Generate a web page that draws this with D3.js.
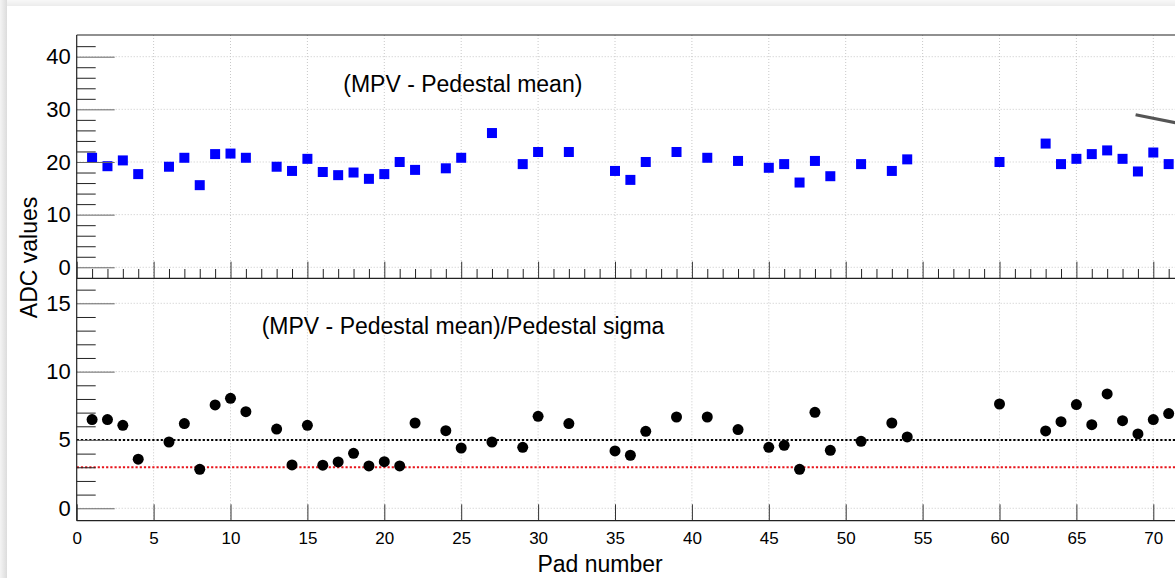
<!DOCTYPE html>
<html>
<head>
<meta charset="utf-8">
<script src="https://cdnjs.cloudflare.com/ajax/libs/d3/7.8.5/d3.min.js"></script>
<style>
  html, body { margin: 0; padding: 0; background: #ffffff; }
  svg { display: block; font-family: "Liberation Sans", Arial, Helvetica, sans-serif; }
</style>
</head>
<body>
<svg id="chart" width="1175" height="578"></svg>
<script>
// ---------------- data ----------------
const pads = [1,2,3,4,6,7,8,9,10,11,13,14,15,16,17,18,19,20,21,22,24,25,27,29,30,32,35,36,37,39,41,43,45,46,47,48,49,51,53,54,60,63,64,65,66,67,68,69,70,71];
const mpvMinusPed = [20.8,19.2,20.3,17.7,19.1,20.8,15.6,21.5,21.6,20.8,19.1,18.3,20.6,18.1,17.5,18.0,16.8,17.7,20.0,18.5,18.8,20.8,25.5,19.6,21.9,21.9,18.3,16.6,20.0,21.9,20.8,20.2,18.9,19.6,16.1,20.2,17.3,19.6,18.3,20.5,20.0,23.5,19.6,20.6,21.5,22.2,20.6,18.2,21.8,19.6];
const mpvOverSigma = [6.49,6.49,6.07,3.59,4.85,6.20,2.85,7.56,8.05,7.07,5.80,3.17,6.07,3.15,3.39,4.02,3.10,3.41,3.10,6.24,5.68,4.41,4.85,4.46,6.73,6.20,4.20,3.88,5.63,6.68,6.68,5.76,4.46,4.61,2.85,7.02,4.24,4.90,6.24,5.22,7.63,5.66,6.34,7.59,6.12,8.37,6.41,5.44,6.49,6.93];
const thresholdLines = [5, 3];                 // bottom panel reference lines
const thresholdColors = ["#000000", "#e8141b"];
const topMajorTicks = [0,10,20,30,40];
const topMinorTicks = [2,4,6,8,12,14,16,18,22,24,26,28,32,34,36,38,42];
const botMajorTicks = [0,5,10,15];
const botMinorTicks = [1,2,3,4,6,7,8,9,11,12,13,14,16];
const xMajorTicks = [0,5,10,15,20,25,30,35,40,45,50,55,60,65,70];
const xMinorTicks = d3.range(0, 73).filter(v => v % 5 !== 0);
const arrowLine = [{x: 68.85, y: 28.98}, {x: 75, y: 25.4}];   // grey line in top panel (data coords)
const topLabel = "(MPV - Pedestal mean)";
const botLabel = "(MPV - Pedestal mean)/Pedestal sigma";
const xTitle = "Pad number";
const yTitle = "ADC values";

// ---------------- layout ----------------
const W = 1175, H = 578;
const svg = d3.select("#chart");
const xLeft = 76.7;
const topY0 = 35, midY = 278.3, botY1 = 520.7;

const x = d3.scaleLinear().domain([0, 72]).range([xLeft, xLeft + 72 * 15.38]);
const yTop = d3.scaleLinear().domain([-2.09, 44.12]).range([midY, topY0]);
const yBot = d3.scaleLinear().domain([-0.91, 16.83]).range([botY1, midY]);

// background / canvas shadow
const defs = svg.append("defs");
const g1 = defs.append("linearGradient").attr("id", "shL").attr("x1", 0).attr("x2", 1).attr("y1", 0).attr("y2", 0);
g1.append("stop").attr("offset", "0%").attr("stop-color", "#f4f4f4");
g1.append("stop").attr("offset", "100%").attr("stop-color", "#dcdcdc");
const g2 = defs.append("linearGradient").attr("id", "shT").attr("x1", 0).attr("x2", 0).attr("y1", 0).attr("y2", 1);
g2.append("stop").attr("offset", "0%").attr("stop-color", "#f8f8f8");
g2.append("stop").attr("offset", "100%").attr("stop-color", "#ececec");
svg.append("rect").attr("x", 0).attr("y", 0).attr("width", W).attr("height", H).attr("fill", "#ffffff");
svg.append("rect").attr("x", 0).attr("y", 0).attr("width", W).attr("height", 6).attr("fill", "url(#shT)");
svg.append("rect").attr("x", 0).attr("y", 0).attr("width", 7).attr("height", H).attr("fill", "url(#shL)");

const clip = defs.append("clipPath").attr("id", "plotClip");
clip.append("rect").attr("x", xLeft).attr("y", topY0).attr("width", W - xLeft).attr("height", botY1 - topY0);

const plot = svg.append("g").attr("clip-path", "url(#plotClip)");

// ---------------- grids ----------------
const gridStyle = sel => sel.attr("stroke", "#c8c8c8").attr("stroke-width", 1).attr("stroke-dasharray", "1,2");
plot.selectAll(".gxT").data(xMajorTicks.filter(v => v > 0)).join("line")
  .attr("x1", d => x(d)).attr("x2", d => x(d)).attr("y1", topY0).attr("y2", midY).call(gridStyle);
plot.selectAll(".gxB").data(xMajorTicks.filter(v => v > 0)).join("line")
  .attr("x1", d => x(d)).attr("x2", d => x(d)).attr("y1", midY).attr("y2", botY1).call(gridStyle);
plot.selectAll(".gyT").data(topMajorTicks).join("line")
  .attr("x1", xLeft).attr("x2", W).attr("y1", d => yTop(d)).attr("y2", d => yTop(d)).call(gridStyle);
plot.selectAll(".gyB").data(botMajorTicks).join("line")
  .attr("x1", xLeft).attr("x2", W).attr("y1", d => yBot(d)).attr("y2", d => yBot(d)).call(gridStyle);

// ---------------- threshold lines ----------------
plot.selectAll(".thr").data(thresholdLines).join("line")
  .attr("x1", xLeft).attr("x2", W)
  .attr("y1", d => yBot(d)).attr("y2", d => yBot(d))
  .attr("stroke", (d, i) => thresholdColors[i]).attr("stroke-width", 2).attr("stroke-dasharray", "2.2,2");

// ---------------- axes ----------------
function styleAxis(color) {
  return g => {
    g.select(".domain").remove();
    g.selectAll(".tick line").attr("stroke", color).attr("stroke-width", 1);
    g.selectAll(".tick text").attr("fill", "#000").attr("font-family", "Liberation Sans, Arial, sans-serif");
  };
}
// top panel y
svg.append("g").attr("transform", `translate(${xLeft},0)`)
  .call(d3.axisLeft(yTop).tickValues(topMajorTicks).tickSize(-38).tickPadding(6).tickFormat(d3.format("d")))
  .call(styleAxis("#666")).call(g => g.selectAll("text").attr("font-size", 22));
svg.append("g").attr("transform", `translate(${xLeft},0)`)
  .call(d3.axisLeft(yTop).tickValues(topMinorTicks).tickSize(-19).tickFormat(""))
  .call(styleAxis("#222"));
// bottom panel y
svg.append("g").attr("transform", `translate(${xLeft},0)`)
  .call(d3.axisLeft(yBot).tickValues(botMajorTicks).tickSize(-38).tickPadding(6).tickFormat(d3.format("d")))
  .call(styleAxis("#666")).call(g => g.selectAll("text").attr("font-size", 22));
svg.append("g").attr("transform", `translate(${xLeft},0)`)
  .call(d3.axisLeft(yBot).tickValues(botMinorTicks).tickSize(-19).tickFormat(""))
  .call(styleAxis("#222"));
// top panel x (no labels)
const axT = svg.append("g").attr("clip-path", "url(#plotClip)");
axT.append("g").attr("transform", `translate(0,${midY})`)
  .call(d3.axisBottom(x).tickValues(xMajorTicks).tickSize(-16.6).tickFormat(""))
  .call(styleAxis("#333"));
axT.append("g").attr("transform", `translate(0,${midY})`)
  .call(d3.axisBottom(x).tickValues(xMinorTicks).tickSize(-9.3).tickFormat(""))
  .call(styleAxis("#222"));
// bottom panel x
const axB = svg.append("g");
axB.append("g").attr("transform", `translate(0,${botY1})`)
  .call(d3.axisBottom(x).tickValues(xMajorTicks).tickSize(-16.4).tickPadding(11.2).tickFormat(d3.format("d")))
  .call(styleAxis("#333")).call(g => g.selectAll("text").attr("font-size", 17));
axB.append("g").attr("transform", `translate(0,${botY1})`).attr("clip-path", "url(#plotClip)")
  .call(d3.axisBottom(x).tickValues(xMinorTicks).tickSize(-8).tickFormat(""))
  .call(styleAxis("#222"));

// ---------------- frames ----------------
const frame = svg.append("g").attr("stroke", "#222").attr("stroke-width", 1.2).attr("fill", "none");
frame.append("line").attr("x1", xLeft).attr("x2", W).attr("y1", topY0).attr("y2", topY0);
frame.append("line").attr("x1", xLeft).attr("x2", W).attr("y1", midY).attr("y2", midY);
frame.append("line").attr("x1", xLeft).attr("x2", W).attr("y1", botY1).attr("y2", botY1);
frame.append("line").attr("x1", xLeft).attr("x2", xLeft).attr("y1", topY0).attr("y2", botY1);

// ---------------- markers ----------------
const sq = 10;
plot.selectAll(".sq").data(pads.map((p, i) => ({p, v: mpvMinusPed[i]}))).join("rect")
  .attr("x", d => x(d.p) - sq / 2).attr("y", d => yTop(d.v) - sq / 2)
  .attr("width", sq).attr("height", sq).attr("fill", "#0000ff");
plot.selectAll(".dot").data(pads.map((p, i) => ({p, v: mpvOverSigma[i]}))).join("circle")
  .attr("cx", d => x(d.p)).attr("cy", d => yBot(d.v)).attr("r", 5.5).attr("fill", "#000");

// grey line (arrow stub) in top panel
plot.append("path")
  .attr("d", d3.line().x(d => x(d.x)).y(d => yTop(d.y))(arrowLine))
  .attr("stroke", "#555").attr("stroke-width", 3.2).attr("fill", "none");

// ---------------- texts ----------------
svg.append("text").attr("x", 343.3).attr("y", 91.7).attr("font-size", 23).attr("fill", "#000").text(topLabel);
svg.append("text").attr("x", 261.7).attr("y", 334).attr("font-size", 23).attr("fill", "#000").text(botLabel);
svg.append("text").attr("x", 662.7).attr("y", 571.7).attr("font-size", 23).attr("text-anchor", "end").attr("fill", "#000").text(xTitle);
svg.append("text").attr("transform", "translate(37.3,196.7) rotate(-90)").attr("font-size", 23)
  .attr("text-anchor", "end").attr("fill", "#000").text(yTitle);
</script>
</body>
</html>
